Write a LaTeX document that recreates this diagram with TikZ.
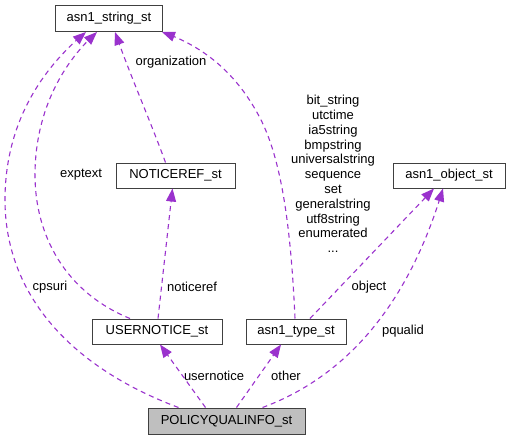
\documentclass[tikz,border=0pt]{standalone}
\usepackage{fontspec}
\setmainfont{Liberation Sans}
\usetikzlibrary{arrows.meta,bending}
\definecolor{edgecol}{HTML}{9A32CD}
\definecolor{boxline}{HTML}{404040}
\tikzset{
  cls/.style={draw=boxline, line width=1pt, fill=white, inner sep=0pt, minimum height=25pt, font=\fontsize{13}{15}\selectfont},
  usage/.style={draw=edgecol, line width=1.1pt, dash pattern=on 5pt off 4pt, -{Triangle[length=13pt,width=10pt,fill=edgecol,flex]}},
  lbl/.style={font=\fontsize{13}{14.8}\selectfont, inner sep=0pt, align=center}
}
\begin{document}
\begin{tikzpicture}[x=1pt,y=-1pt]
\useasboundingbox (0,0) rectangle (510,440);
\node[cls, minimum width=107pt, minimum height=26pt] (str) at (109,18.5) {asn1\_string\_st};
\node[cls, minimum width=119pt] (notice) at (175.5,175.5) {NOTICEREF\_st};
\node[cls, minimum width=112pt] (obj) at (449,175.5) {asn1\_object\_st};
\node[cls, minimum width=130pt] (user) at (157,331.5) {USERNOTICE\_st};
\node[cls, minimum width=100pt] (type) at (296,331.5) {asn1\_type\_st};
\node[cls, minimum width=157pt, minimum height=26pt, fill={rgb,255:red,191;green,191;blue,191}] (pol) at (226.5,421) {POLICYQUALINFO\_st};

% cpsuri
\draw[usage] ([xshift=-48pt]pol.north) .. controls (65,365) and (5,290) .. (5,200)
   .. controls (5,125) and (40,70) .. ([xshift=-23pt]str.south);
% exptext
\draw[usage] ([xshift=-27pt]user.north) .. controls (65,292) and (35,235) .. (35,175)
   .. controls (35,115) and (60,65) .. ([xshift=-12pt]str.south);
% organization
\draw[usage] ([xshift=-10pt]notice.north) .. controls (150,120) and (130,75) .. ([xshift=6pt]str.south);
% noticeref
\draw[usage] ([xshift=1pt]user.north) -- ([xshift=-3pt]notice.south);
% bit_string ...
\draw[usage] ([xshift=-1pt]type.north) .. controls (291,230) and (282,160) .. (260,118)
   .. controls (235,70) and (200,45) .. ([xshift=-1pt]str.south east);
% object
\draw[usage] ([xshift=14pt]type.north) -- ([xshift=-15pt]obj.south);
% pqualid
\draw[usage] ([xshift=36pt]pol.north) .. controls (350,375) and (410,300) .. ([xshift=-6pt]obj.south);
% usernotice
\draw[usage] ([xshift=-21pt]pol.north) -- ([xshift=3pt]user.south);
% other
\draw[usage] ([xshift=10pt]pol.north) -- ([xshift=-15pt]type.south);

\node[lbl] (lcps) at (50,287) {cpsuri};
\node[lbl] (lexp) at (81,175) {exptext};
\node[lbl] (lorg) at (171,62) {organization};
\node[lbl] (lnot) at (192,287) {noticeref};
\node[lbl] (lbit) at (333,174) {bit\_string\\utctime\\ia5string\\bmpstring\\universalstring\\sequence\\set\\generalstring\\utf8string\\enumerated\\...};
\node[lbl] (lobj) at (369,287) {object};
\node[lbl] (lpq) at (403,331) {pqualid};
\node[lbl] (luser) at (214,376) {usernotice};
\node[lbl] (loth) at (286,376) {other};
\end{tikzpicture}
\end{document}
